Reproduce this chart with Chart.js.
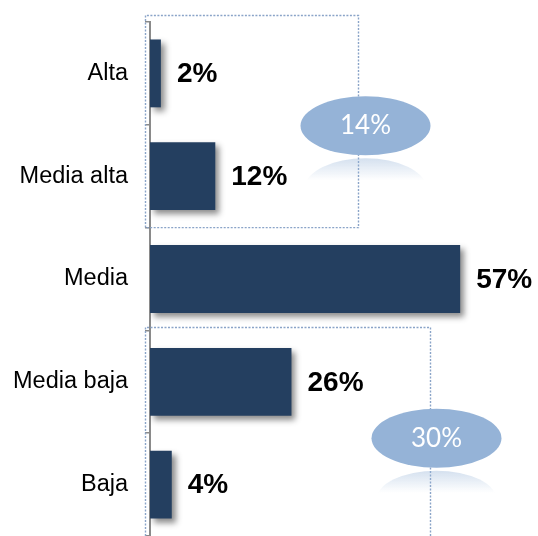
<!DOCTYPE html>
<html>
<head>
<meta charset="utf-8">
<script src="https://cdn.jsdelivr.net/npm/chart.js@4"></script>
<style>
  html, body { margin: 0; padding: 0; background: #ffffff; }
  #wrap { width: 538px; height: 536px; }
</style>
</head>
<body>
<div id="wrap"><canvas id="c" width="538" height="536"></canvas></div>
<script>
const categories = ['Alta', 'Media alta', 'Media', 'Media baja', 'Baja'];
const values = [2, 12, 57, 26, 4];
const groupLabels = ['14%', '30%'];
const groupFirst = [0, 3];
const groupLast = [1, 4];

const BAR = '#243f60';
const ELL = '#95b3d7';
const DOT = '#8aa4c8';

const groupStyle = [
  { right: 38.3, topExtra: 7, ellDx: 7, ellDy: 1 },
  { right: 51.5, topExtra: 3, ellDx: 6, ellDy: 5 }
];

const shadowPlugin = {
  id: 'shadow',
  beforeDatasetsDraw(chart) {
    const ctx = chart.ctx;
    ctx.save();
    ctx.shadowColor = 'rgba(0,0,0,0.45)';
    ctx.shadowBlur = 6;
    ctx.shadowOffsetX = 4;
    ctx.shadowOffsetY = 4;
  },
  afterDatasetsDraw(chart) {
    chart.ctx.restore();
  }
};

const overlayPlugin = {
  id: 'overlay',
  afterDraw(chart) {
    const ctx = chart.ctx;
    const xs = chart.scales.x, ys = chart.scales.y;
    const step = (ys.getPixelForValue(1) - ys.getPixelForValue(0));
    const meta = chart.getDatasetMeta(0);
    ctx.save();
    ctx.font = 'bold 28px "Liberation Sans", Arial, sans-serif';
    ctx.fillStyle = '#000';
    ctx.textAlign = 'left';
    ctx.textBaseline = 'middle';
    meta.data.forEach((el, i) => {
      ctx.fillText(values[i] + '%', el.x + 16, el.y + 1);
    });
    ctx.restore();

    groupLabels.forEach((lab, g) => {
      const st = groupStyle[g];
      const top = ys.getPixelForValue(groupFirst[g]) - step / 2 - st.topExtra;
      const bottom = ys.getPixelForValue(groupLast[g]) + step / 2;
      const left = xs.left - 4.5;
      const right = Math.round(xs.getPixelForValue(st.right)) + 0.5;
      ctx.save();
      ctx.strokeStyle = DOT;
      ctx.lineWidth = 1.4;
      ctx.setLineDash([2, 1.5]);
      ctx.beginPath();
      ctx.moveTo(left, bottom);
      ctx.lineTo(left, Math.round(top) + 0.5);
      ctx.lineTo(right, Math.round(top) + 0.5);
      ctx.lineTo(right, bottom);
      if (bottom < chart.height) ctx.lineTo(left, bottom);
      ctx.stroke();
      ctx.restore();

      const cx = right + st.ellDx;
      const cy = (top + st.topExtra + bottom) / 2 + st.ellDy;
      const rx = 65, ry = 29.5;
      ctx.save();
      const rcy = cy + 2 * ry + 3;
      const grad = ctx.createLinearGradient(0, rcy - ry, 0, rcy - ry + 22);
      grad.addColorStop(0, 'rgba(149,179,215,0.4)');
      grad.addColorStop(1, 'rgba(149,179,215,0)');
      ctx.fillStyle = grad;
      ctx.beginPath();
      ctx.ellipse(cx, rcy, rx * 0.93, ry, 0, 0, Math.PI * 2);
      ctx.fill();
      ctx.restore();
      ctx.save();
      ctx.fillStyle = ELL;
      ctx.beginPath();
      ctx.ellipse(cx, cy, rx, ry, 0, 0, Math.PI * 2);
      ctx.fill();
      ctx.fillStyle = '#ffffff';
      ctx.font = '26px Lato, "Open Sans", sans-serif';
      ctx.textAlign = 'center';
      ctx.textBaseline = 'middle';
      ctx.fillText(lab, cx, cy);
      ctx.restore();
    });
  }
};

new Chart(document.getElementById('c'), {
  type: 'bar',
  data: {
    labels: categories,
    datasets: [{
      data: values,
      backgroundColor: BAR,
      borderWidth: 0,
      barPercentage: 0.66,
      categoryPercentage: 1.0
    }]
  },
  options: {
    indexAxis: 'y',
    responsive: false,
    animation: false,
    devicePixelRatio: 1,
    layout: { padding: { top: 22, left: 0, right: 0, bottom: -2 } },
    plugins: { legend: { display: false }, tooltip: { enabled: false } },
    scales: {
      x: { display: false, min: 0, max: 71.3 },
      y: {
        grid: { offset: true, drawOnChartArea: false, tickLength: 5, color: '#8a8a8a', lineWidth: 1.5 },
        border: { color: '#8a8a8a', width: 2 },
        ticks: { font: { family: '"Liberation Sans", Arial, sans-serif', size: 23.5 }, color: '#000', padding: 17 },
        afterFit(s) { s.width = 150; s.paddingTop = 0; s.paddingBottom = 0; }
      }
    }
  },
  plugins: [shadowPlugin, overlayPlugin]
});
</script>
</body>
</html>
